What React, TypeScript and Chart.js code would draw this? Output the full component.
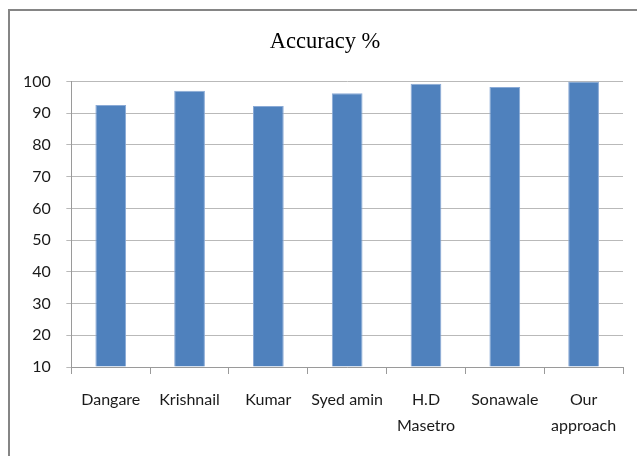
import React, { useEffect, useRef } from "react";
import { Chart, registerables } from "chart.js";

Chart.register(...registerables);

const categories: (string | string[])[] = [
  "Dangare",
  "Krishnail",
  "Kumar",
  "Syed amin",
  ["H.D", "Masetro"],
  "Sonawale",
  ["Our", "approach"],
];
const accuracy: number[] = [92.6, 97.1, 92.3, 96.3, 99.3, 98.3, 100];
const yMin = 10;
const yMax = 100;
const yStep = 10;
const titleText = "Accuracy %";

const W = 637;
const H = 456;
const labelFont = "Lato, 'Noto Sans', sans-serif";
const titleFont = "normal 22.5px 'Liberation Serif', 'Times New Roman', serif";

const titlePlugin = {
  id: "offsetTitle",
  afterDraw(chart: Chart) {
    const ctx = chart.ctx;
    ctx.save();
    ctx.font = titleFont;
    ctx.fillStyle = "#000";
    ctx.textAlign = "center";
    ctx.textBaseline = "alphabetic";
    ctx.fillText(titleText, 325, 48);
    ctx.restore();
  },
};

export default function App() {
  const ref = useRef<HTMLCanvasElement | null>(null);

  useEffect(() => {
    if (!ref.current) return;
    const chart = new Chart(ref.current, {
      type: "bar",
      data: {
        labels: categories,
        datasets: [
          {
            label: titleText,
            data: accuracy,
            backgroundColor: "#4f81bd",
            borderColor: "#8aaad6",
            borderWidth: 1,
            barPercentage: 0.39,
            categoryPercentage: 1,
            base: yMin,
          },
        ],
      },
      plugins: [titlePlugin],
      options: {
        responsive: false,
        animation: false,
        layout: { padding: { left: 7.5, right: 14, top: 81.5, bottom: 4 } },
        plugins: {
          legend: { display: false },
          tooltip: { enabled: false },
          title: { display: false },
        },
        scales: {
          x: {
            grid: {
              display: true,
              drawOnChartArea: false,
              drawTicks: true,
              offset: true,
              tickLength: 7,
              color: "#9a9a9a",
            },
            border: { display: true, color: "#9a9a9a", width: 1 },
            ticks: {
              color: "#1a1a1a",
              padding: 13,
              autoSkip: false,
              maxRotation: 0,
              font: { family: labelFont, size: 16, lineHeight: "26px" },
            },
          },
          y: {
            min: yMin,
            max: yMax,
            grid: {
              color: "#b9b9b9",
              tickLength: 5,
              drawTicks: true,
            },
            border: { display: true, color: "#9a9a9a", width: 1 },
            ticks: {
              stepSize: yStep,
              color: "#1a1a1a",
              padding: 15.5,
              font: { family: labelFont, size: 16 },
            },
          },
        },
      },
    });
    return () => chart.destroy();
  }, []);

  return (
    <div style={{ position: "absolute", left: 0, top: 0, width: W, height: H, background: "#fff", overflow: "hidden" }}>
      <canvas ref={ref} width={W} height={H} style={{ display: "block", width: W, height: H }} />
      <div
        style={{
          position: "absolute",
          left: 8,
          top: 9,
          width: W,
          height: H,
          borderLeft: "2px solid #858585",
          borderTop: "2px solid #858585",
          pointerEvents: "none",
        }}
      />
    </div>
  );
}
